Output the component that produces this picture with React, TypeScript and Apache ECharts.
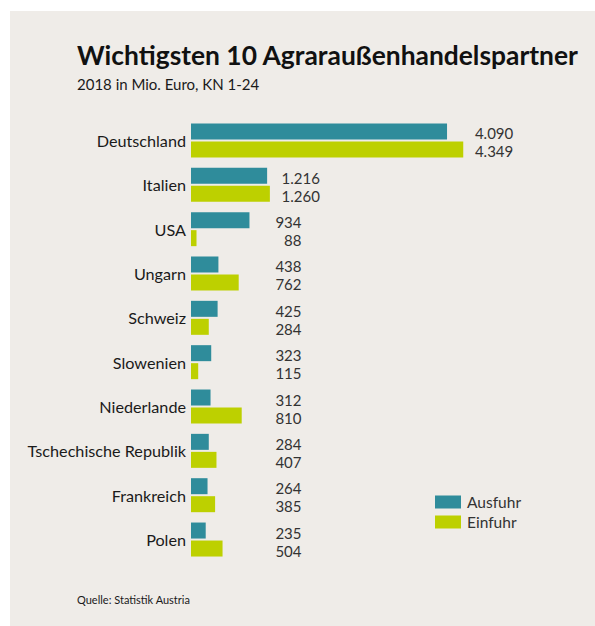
import React, { useEffect, useRef } from "react";
import * as echarts from "echarts";

const categories = [
  "Deutschland",
  "Italien",
  "USA",
  "Ungarn",
  "Schweiz",
  "Slowenien",
  "Niederlande",
  "Tschechische Republik",
  "Frankreich",
  "Polen",
];
const ausfuhr = [4090, 1216, 934, 438, 425, 323, 312, 284, 264, 235];
const einfuhr = [4349, 1260, 88, 762, 284, 115, 810, 407, 385, 504];

const TITLE = "Wichtigsten 10 Agraraußenhandelspartner";
const SUBTITLE = "2018 in Mio. Euro, KN 1-24";
const SOURCE = "Quelle: Statistik Austria";

const TEAL = "#2f8c9b";
const LIME = "#bdd000";
const BG = "#efece8";
const FONT = "Lato, 'Open Sans', sans-serif";

function fmt(v: number): string {
  const s = String(Math.round(v));
  return s.replace(/\B(?=(\d{3})+(?!\d))/g, ".");
}

export default function App() {
  const ref = useRef<HTMLDivElement>(null);
  useEffect(() => {
    if (!ref.current) return;
    const chart = echarts.init(ref.current, undefined, { renderer: "svg" });
    const labelData = categories.map((_, i) => [i, ausfuhr[i], einfuhr[i]]);
    chart.setOption({
      animation: false,
      backgroundColor: "#ffffff",
      textStyle: { fontFamily: FONT },
      graphic: [
        {
          type: "rect",
          shape: { x: 10, y: 11, width: 585, height: 615 },
          style: { fill: BG },
          z: -10,
        },
        {
          type: "text",
          left: 77,
          top: 42,
          style: {
            text: TITLE,
            font: `bold 26.4px ${FONT}`,
            fill: "#111111",
          },
        },
        {
          type: "text",
          left: 77,
          top: 76,
          style: {
            text: SUBTITLE,
            font: `15px ${FONT}`,
            fill: "#1a1a1a",
          },
        },
        {
          type: "text",
          left: 77,
          top: 594,
          style: {
            text: SOURCE,
            font: `11px ${FONT}`,
            fill: "#1a1a1a",
          },
        },
      ],
      legend: {
        orient: "vertical",
        left: 430,
        top: 489,
        itemWidth: 26,
        itemHeight: 13,
        itemGap: 4,
        icon: "rect",
        data: ["Ausfuhr", "Einfuhr"],
        textStyle: {
          fontSize: 15.5,
          color: "#333333",
          fontFamily: FONT,
          padding: [0, 0, 0, 1],
        },
      },
      grid: {
        left: 191,
        top: 118.3,
        width: 375.6,
        height: 443.4,
        containLabel: false,
      },
      xAxis: {
        type: "value",
        min: 0,
        max: 6000,
        show: false,
      },
      yAxis: {
        type: "category",
        data: categories,
        inverse: true,
        axisLine: { show: false },
        axisTick: { show: false },
        splitLine: { show: false },
        axisLabel: {
          fontSize: 16.2,
          color: "#1a1a1a",
          fontFamily: FONT,
          margin: 5,
        },
      },
      series: [
        {
          name: "Ausfuhr",
          type: "bar",
          data: ausfuhr,
          barWidth: 16,
          barGap: "12.5%",
          itemStyle: { color: TEAL },
        },
        {
          name: "Einfuhr",
          type: "bar",
          data: einfuhr,
          barWidth: 16,
          barGap: "12.5%",
          itemStyle: { color: LIME },
        },
        {
          type: "custom",
          name: "labels",
          data: labelData,
          silent: true,
          renderItem: (params: any, api: any) => {
            const idx = api.value(0);
            const a = api.value(1);
            const e = api.value(2);
            const center = api.coord([0, idx]);
            const endPx = api.coord([Math.max(a, e), idx])[0];
            const minPx = api.coord([1765, idx])[0];
            const x = Math.max(minPx, endPx + 50);
            return {
              type: "group",
              children: [
                {
                  type: "text",
                  x,
                  y: center[1] - 7,
                  style: {
                    text: fmt(a),
                    font: `15px ${FONT}`,
                    fill: "#333333",
                    align: "right",
                    verticalAlign: "middle",
                  },
                },
                {
                  type: "text",
                  x,
                  y: center[1] + 11,
                  style: {
                    text: fmt(e),
                    font: `15px ${FONT}`,
                    fill: "#333333",
                    align: "right",
                    verticalAlign: "middle",
                  },
                },
              ],
            };
          },
        },
      ],
    });
    return () => chart.dispose();
  }, []);
  return (
    <div
      ref={ref}
      style={{ position: "absolute", left: 0, top: 0, width: 595, height: 626 }}
    />
  );
}
